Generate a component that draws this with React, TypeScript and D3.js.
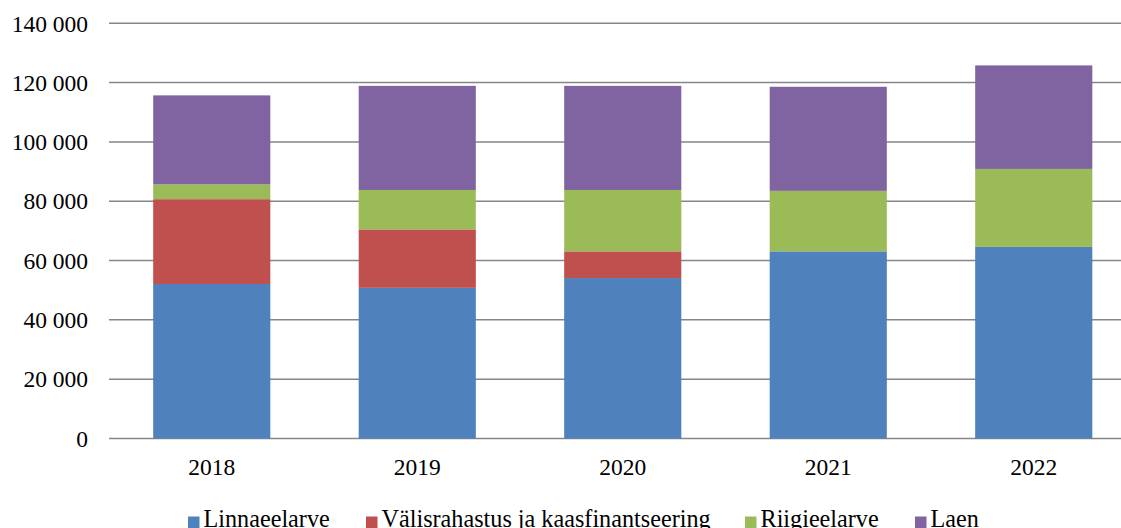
import React from "react";
import * as d3 from "d3";

const years = ["2018", "2019", "2020", "2021", "2022"];
const seriesNames = ["Linnaeelarve", "Välisrahastus ja kaasfinantseering", "Riigieelarve", "Laen"];
const linnaeelarve = [52100, 50800, 54100, 63100, 64600];
const valisrahastus = [28600, 19700, 9000, 0, 0];
const riigieelarve = [5000, 13300, 20700, 20400, 26300];
const laen = [30000, 35100, 35100, 35100, 34900];
const colors = ["#4F81BD", "#C0504D", "#9BBB59", "#8064A2"];
const yTicks = [0, 20000, 40000, 60000, 80000, 100000, 120000, 140000];

const W = 1121;
const H = 528;
const FONT = "Liberation Serif, DejaVu Serif, serif";

export default function App() {
  const x = d3.scaleBand<string>().domain(years).range([109, 1136.5]).paddingInner(0.43).paddingOuter(0.215);
  const y = d3.scaleLinear().domain([0, 140000]).range([438.5, 23.3]);
  const table = years.map((yr, i) => ({
    year: yr,
    s0: linnaeelarve[i],
    s1: valisrahastus[i],
    s2: riigieelarve[i],
    s3: laen[i],
  }));
  const stack = d3.stack<any>().keys(["s0", "s1", "s2", "s3"]);
  const layers = stack(table);
  const fmt = (v: number) => d3.format(",")(v).replace(/,/g, " ");
  const legendX = [188, 366, 745, 915];

  return (
    <svg width={W} height={H} style={{ position: "absolute", left: 0, top: 0 }}>
      <rect width={W} height={H} fill="#fff" />
      {yTicks.map((t) => (
        <g key={t}>
          <line x1={109} x2={W} y1={y(t)} y2={y(t)} stroke="#868686" strokeWidth={1.5} />
          <text x={88} y={y(t) + 8.2} textAnchor="end" fontSize={23.5} fontFamily={FONT} fill="#000">
            {fmt(t)}
          </text>
        </g>
      ))}
      {layers.map((layer, li) => (
        <g key={li} fill={colors[li]}>
          {layer.map((d, i) => {
            const h = y(d[0]) - y(d[1]);
            if (h <= 0) return null;
            return (
              <rect key={i} x={x(years[i])} y={y(d[1])} width={x.bandwidth()} height={h} />
            );
          })}
        </g>
      ))}
      {years.map((yr) => (
        <text key={yr} x={(x(yr) as number) + x.bandwidth() / 2} y={475} textAnchor="middle" fontSize={23.5} fontFamily={FONT} fill="#000">
          {yr}
        </text>
      ))}
      {seriesNames.map((n, i) => (
        <g key={n}>
          <rect x={legendX[i]} y={516.5} width={11.5} height={11.5} fill={colors[i]} />
          <text x={legendX[i] + 15.5} y={526.5} fontSize={24.2} fontFamily={FONT} fill="#000">
            {n}
          </text>
        </g>
      ))}
    </svg>
  );
}
